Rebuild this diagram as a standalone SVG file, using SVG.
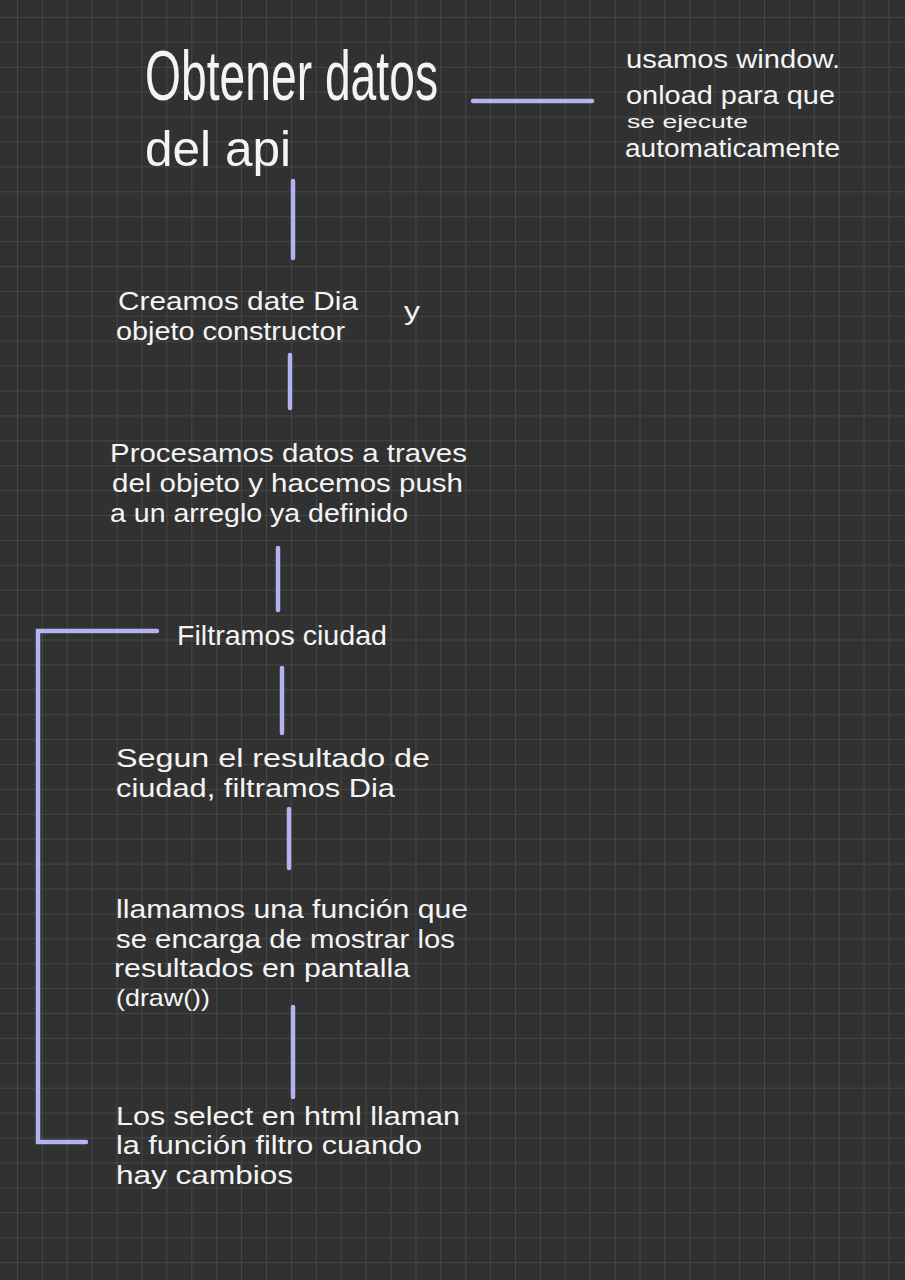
<svg xmlns="http://www.w3.org/2000/svg" width="905" height="1280" viewBox="0 0 905 1280">
<style>
.t{font-family:"Liberation Sans",Arial,sans-serif;fill:#f4f4f4;font-weight:normal}
.b{font-size:26px}
.c{stroke:#b3b3f2;stroke-width:4.5;stroke-linecap:round;fill:none}
</style>
<defs>
<pattern id="grid" x="17" y="17" width="24.9" height="24.9" patternUnits="userSpaceOnUse">
<path d="M0 0H24.9M0 0V24.9" stroke="#4b4b4b" stroke-width="1.6" fill="none"/>
</pattern>
</defs>
<rect width="905" height="1280" fill="#313131"/>
<rect width="905" height="1280" fill="url(#grid)"/>
<g id="connectors">
<line class="c" x1="473" y1="101" x2="592" y2="101"/>
<line class="c" x1="293" y1="181" x2="293" y2="258"/>
<line class="c" x1="290" y1="355" x2="290" y2="408"/>
<line class="c" x1="278" y1="548" x2="278" y2="610"/>
<polyline class="c" points="157,631 38,631 38,1142 86,1142"/>
<line class="c" x1="282" y1="668" x2="282" y2="733"/>
<line class="c" x1="289" y1="809" x2="289" y2="868"/>
<line class="c" x1="293" y1="1007" x2="293" y2="1097"/>
</g>
<g id="n1">
<text class="t" x="145" y="100" font-size="70" textLength="293" lengthAdjust="spacingAndGlyphs">Obtener datos</text>
<text class="t" x="145" y="166" font-size="50" textLength="146" lengthAdjust="spacingAndGlyphs">del api</text>
</g>
<g id="n2">
<text class="t b" x="626" y="68" textLength="214" lengthAdjust="spacingAndGlyphs">usamos window.</text>
<text class="t b" x="626" y="104" textLength="209" lengthAdjust="spacingAndGlyphs">onload para que</text>
<text class="t" x="627" y="128" font-size="18" textLength="121" lengthAdjust="spacingAndGlyphs">se ejecute</text>
<text class="t b" x="625" y="157" textLength="215" lengthAdjust="spacingAndGlyphs">automaticamente</text>
</g>
<g id="n3">
<text class="t b" x="118" y="310" textLength="240" lengthAdjust="spacingAndGlyphs">Creamos date Dia</text>
<text class="t b" x="404" y="320" textLength="16" lengthAdjust="spacingAndGlyphs">y</text>
<text class="t b" x="116" y="340" textLength="229" lengthAdjust="spacingAndGlyphs">objeto constructor</text>
</g>
<g id="n4">
<text class="t b" x="110" y="462" textLength="357" lengthAdjust="spacingAndGlyphs">Procesamos datos a traves</text>
<text class="t b" x="112" y="492" textLength="351" lengthAdjust="spacingAndGlyphs">del objeto y hacemos push</text>
<text class="t b" x="110" y="522" textLength="298" lengthAdjust="spacingAndGlyphs">a un arreglo ya definido</text>
</g>
<g id="n5">
<text class="t" x="177" y="645" font-size="28" textLength="210" lengthAdjust="spacingAndGlyphs">Filtramos ciudad</text>
</g>
<g id="n6">
<text class="t b" x="116" y="767" textLength="314" lengthAdjust="spacingAndGlyphs">Segun el resultado de</text>
<text class="t b" x="116" y="797" textLength="279" lengthAdjust="spacingAndGlyphs">ciudad, filtramos Dia</text>
</g>
<g id="n7">
<text class="t b" x="116" y="918" textLength="352" lengthAdjust="spacingAndGlyphs">llamamos una función que</text>
<text class="t b" x="116" y="948" textLength="339" lengthAdjust="spacingAndGlyphs">se encarga de mostrar los</text>
<text class="t b" x="114" y="977" textLength="296" lengthAdjust="spacingAndGlyphs">resultados en pantalla</text>
<text class="t" x="116" y="1006" font-size="24" textLength="94" lengthAdjust="spacingAndGlyphs">(draw())</text>
</g>
<g id="n8">
<text class="t b" x="116" y="1125" textLength="344" lengthAdjust="spacingAndGlyphs">Los select en html llaman</text>
<text class="t b" x="116" y="1154" textLength="306" lengthAdjust="spacingAndGlyphs">la función filtro cuando</text>
<text class="t b" x="116" y="1184" textLength="177" lengthAdjust="spacingAndGlyphs">hay cambios</text>
</g>
</svg>
